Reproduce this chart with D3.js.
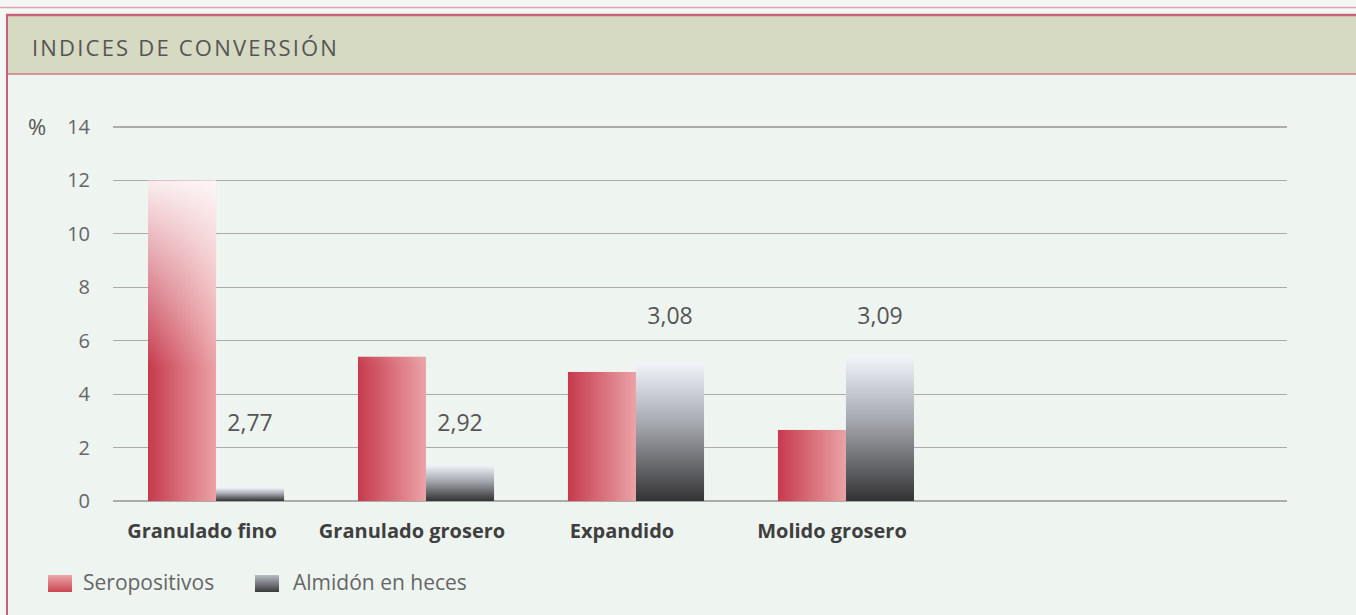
<!doctype html>
<html>
<head>
<meta charset="utf-8">
<title>Indices de conversión</title>
<script src="https://d3js.org/d3.v7.min.js"></script>
<style>
    body {margin:0; background:#f4f7f4;}
    svg {display:block; font-family:"Open Sans", sans-serif;}
    .grid line {stroke:#a9aca9; stroke-width:1.2; shape-rendering:crispEdges;}
    .tick-label {font-size:20px; fill:#666; text-anchor:end;}
    .cat {font-size:20px; font-weight:bold; fill:#3f3f3f; text-anchor:middle;}
    .val {font-size:23px; fill:#555; text-anchor:middle;}
    .legend text {font-size:21px; fill:#666;}
</style>
</head>
<body>
<script>
"use strict";
var categories = ["Granulado fino", "Granulado grosero", "Expandido", "Molido grosero"];
var seropositivos = [12, 5.4, 4.83, 2.66];
var almidon = [0.5, 1.35, 5.2, 5.45];
var labels = ["2,77", "2,92", "3,08", "3,09"];
var seriesNames = ["Seropositivos", "Almidón en heces"];
var yTicks = [0, 2, 4, 6, 8, 10, 12, 14];

var W = 1356, H = 615;
var svg = d3.select("body").append("svg").attr("width", W).attr("height", H);
var defs = svg.append("defs");

// red bars: darker left, lighter right
var gRed = defs.append("linearGradient").attr("id", "gRed").attr("x1", 0).attr("x2", 1).attr("y1", 0).attr("y2", 0);
gRed.append("stop").attr("offset", "0%").attr("stop-color", "#c63a4c");
gRed.append("stop").attr("offset", "100%").attr("stop-color", "#eba3a6");

// gray bars: dark bottom, pale top
var gGray = defs.append("linearGradient").attr("id", "gGray").attr("x1", 0).attr("x2", 0).attr("y1", 0).attr("y2", 1);
gGray.append("stop").attr("offset", "0%").attr("stop-color", "#f2f5fa");
gGray.append("stop").attr("offset", "45%").attr("stop-color", "#a4a7ad");
gGray.append("stop").attr("offset", "100%").attr("stop-color", "#333335");

var lgRed = defs.append("linearGradient").attr("id", "lgRed").attr("x1", 0).attr("x2", 0).attr("y1", 0).attr("y2", 1);
lgRed.append("stop").attr("offset", "0%").attr("stop-color", "#eaa8aa");
lgRed.append("stop").attr("offset", "100%").attr("stop-color", "#cc4452");
var lgGray = defs.append("linearGradient").attr("id", "lgGray").attr("x1", 0).attr("x2", 0).attr("y1", 0).attr("y2", 1);
lgGray.append("stop").attr("offset", "0%").attr("stop-color", "#b8bcc4");
lgGray.append("stop").attr("offset", "100%").attr("stop-color", "#3a3a3c");

var y = d3.scaleLinear().domain([0, 14]).range([501, 127]);
var x = d3.scaleBand().domain(categories).range([148, 914]).paddingInner(0.352).paddingOuter(0);
var xs = d3.scaleBand().domain(seriesNames).range([0, x.bandwidth()]);

// white fade toward the top of tall bars
var fade = defs.append("linearGradient").attr("id", "fade").attr("gradientUnits", "userSpaceOnUse")
    .attr("x1", 0).attr("x2", 0).attr("y1", y(12.3)).attr("y2", y(5));
fade.append("stop").attr("offset", "0%").attr("stop-color", "#fff").attr("stop-opacity", 0.95);
fade.append("stop").attr("offset", "100%").attr("stop-color", "#fff").attr("stop-opacity", 0);

// frame
svg.append("rect").attr("x", 0).attr("y", 0).attr("width", W).attr("height", H).attr("fill", "#f4f7f4");
svg.append("rect").attr("x", 7).attr("y", 15).attr("width", W - 7).attr("height", H - 15).attr("fill", "#eef4f0");
svg.append("rect").attr("x", 7).attr("y", 15).attr("width", W - 7).attr("height", 59).attr("fill", "#d7dac2");
svg.append("line").attr("x1", 0).attr("x2", W).attr("y1", 7.5).attr("y2", 7.5).attr("stroke", "#d9a6b2").attr("stroke-width", 1.5);
svg.append("line").attr("x1", 6).attr("x2", W).attr("y1", 15).attr("y2", 15).attr("stroke", "#c9607a").attr("stroke-width", 2.5);
svg.append("line").attr("x1", 7).attr("x2", W).attr("y1", 74).attr("y2", 74).attr("stroke", "#d07886").attr("stroke-width", 1.5);
svg.append("line").attr("x1", 7).attr("x2", 7).attr("y1", 14).attr("y2", H).attr("stroke", "#c9607a").attr("stroke-width", 2);

svg.append("text").attr("x", 32).attr("y", 56).attr("fill", "#555")
    .style("font-size", "22px").style("letter-spacing", "2.2px").text("INDICES DE CONVERSIÓN");

// gridlines
var grid = svg.append("g").attr("class", "grid");
grid.selectAll("line").data(yTicks).enter().append("line")
    .attr("x1", 113).attr("x2", 1287)
    .attr("y1", function(d) { return y(d); }).attr("y2", function(d) { return y(d); })
    .attr("stroke", function(d) { return d === 0 ? "#777" : null; });

svg.selectAll(".tick-label").data(yTicks).enter().append("text")
    .attr("class", "tick-label").attr("x", 90)
    .attr("y", function(d) { return y(d) + 7; })
    .text(function(d) { return d; });
svg.append("text").attr("x", 28).attr("y", y(14) + 8).attr("fill", "#555").style("font-size", "22px").text("%");

// bars
var groups = svg.selectAll(".grp").data(categories).enter().append("g")
    .attr("transform", function(d) { return "translate(" + x(d) + ",0)"; });

groups.append("rect")
    .attr("x", xs(seriesNames[0])).attr("width", xs.bandwidth())
    .attr("y", function(d, i) { return y(seropositivos[i]); })
    .attr("height", function(d, i) { return y(0) - y(seropositivos[i]); })
    .attr("fill", "url(#gRed)");
groups.append("rect")
    .attr("x", xs(seriesNames[0])).attr("width", xs.bandwidth())
    .attr("y", function(d, i) { return y(seropositivos[i]); })
    .attr("height", function(d, i) { return y(0) - y(seropositivos[i]); })
    .attr("fill", "url(#fade)");
groups.append("rect")
    .attr("x", xs(seriesNames[1])).attr("width", xs.bandwidth())
    .attr("y", function(d, i) { return y(almidon[i]); })
    .attr("height", function(d, i) { return y(0) - y(almidon[i]); })
    .attr("fill", "url(#gGray)");

// value labels
groups.append("text").attr("class", "val")
    .attr("x", xs(seriesNames[1]) + xs.bandwidth() / 2)
    .attr("y", function(d, i) { return i < 2 ? 431 : 324; })
    .text(function(d, i) { return labels[i]; });

// category labels
groups.append("text").attr("class", "cat")
    .attr("x", x.bandwidth() / 2 - 14).attr("y", 538)
    .text(function(d) { return d; });

// legend
var legend = svg.append("g").attr("class", "legend");
var lx = [48, 255];
seriesNames.forEach(function(s, i) {
    legend.append("rect").attr("x", lx[i]).attr("y", 575).attr("width", 24).attr("height", 17)
        .attr("fill", i === 0 ? "url(#lgRed)" : "url(#lgGray)");
    legend.append("text").attr("x", lx[i] + (i === 0 ? 35 : 38)).attr("y", 590).text(s);
});
</script>
</body>
</html>
